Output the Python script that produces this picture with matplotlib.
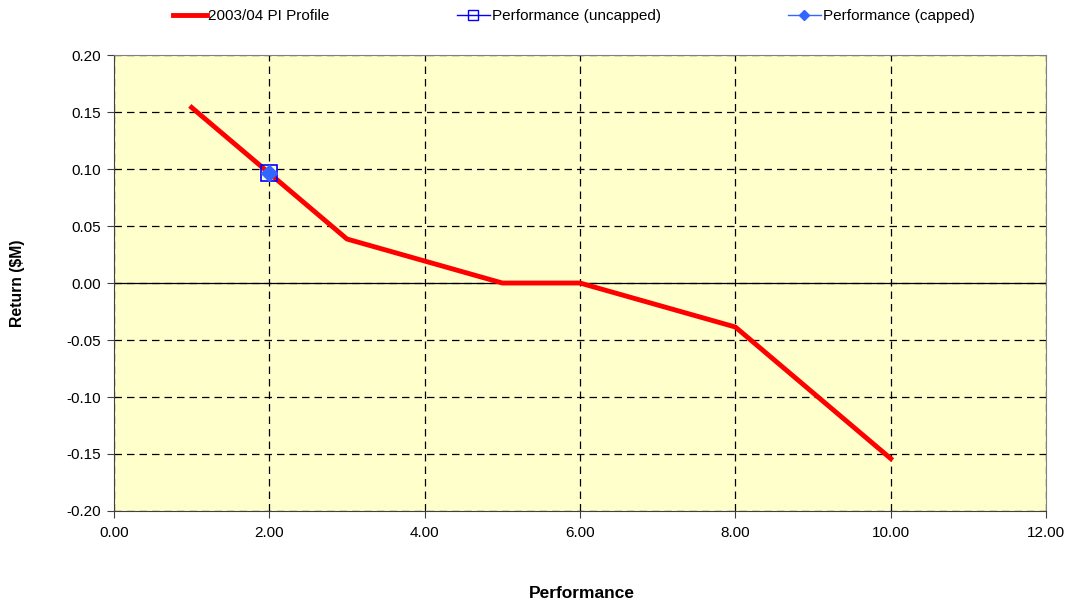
import matplotlib
matplotlib.use("Agg")
import matplotlib.pyplot as plt

plt.rcParams['font.family'] = ['Liberation Sans', 'DejaVu Sans']

profile_x = [1, 3, 5, 6, 8, 10]
profile_y = [0.154, 0.0386, 0.0, 0.0, -0.0386, -0.154]
perf_uncapped_x = [2]
perf_uncapped_y = [0.0965]
perf_capped_x = [2]
perf_capped_y = [0.0965]

x_ticks = [0, 2, 4, 6, 8, 10, 12]
y_ticks = [-0.20, -0.15, -0.10, -0.05, 0.00, 0.05, 0.10, 0.15, 0.20]

fig = plt.figure(figsize=(10.71, 6.05), dpi=100)
ax = fig.add_axes([0.1064, 0.1554, 0.8703, 0.7536])
ax.set_facecolor('#FFFFCC')

ax.set_xlim(0, 12)
ax.set_ylim(-0.20, 0.20)
ax.set_xticks(x_ticks)
ax.set_yticks(y_ticks)
ax.set_xticklabels([f"{v:.2f}" for v in x_ticks])
ax.set_yticklabels([f"{v:.2f}" for v in y_ticks])
ax.grid(True, color='black', linestyle=(0, (6, 4)), linewidth=0.9)
ax.set_axisbelow(True)
ax.axhline(0, color='black', linewidth=0.9, zorder=1.5)

for s in ['top', 'right']:
    ax.spines[s].set_color('#808080')
for s in ['left', 'bottom']:
    ax.spines[s].set_color('#404040')
ax.tick_params(axis='both', direction='out', length=5, color='#404040', labelsize=11)
ax.tick_params(axis='y', pad=4)
ax.tick_params(axis='x', pad=5.5)

ax.plot(profile_x, profile_y, color='#FF0000', linewidth=3.5, zorder=3)
ax.plot(perf_uncapped_x, perf_uncapped_y, color='#0000FF', marker='s', markersize=11,
        markerfacecolor='none', markeredgewidth=1.2, linewidth=1, zorder=4)
ax.plot(perf_capped_x, perf_capped_y, color='#3366FF', marker='D', markersize=8,
        linewidth=1, zorder=5)

fig.text(582 / 1071, 1 - 594 / 605, 'Performance', fontsize=12.5, fontweight='bold',
         ha='center', va='center')
fig.text(18 / 1071, 1 - 283 / 605, 'Return ($M)', fontsize=11.3, fontweight='bold',
         ha='center', va='center', rotation=90)

h1, = ax.plot([], [], color='#FF0000', linewidth=3.5)
h2, = ax.plot([], [], color='#0000FF', marker='s', markersize=7, markerfacecolor='none', linewidth=1)
h3, = ax.plot([], [], color='#3366FF', marker='D', markersize=5, linewidth=1)
fig.legend([h1, h2, h3], ['2003/04 PI Profile', 'Performance (uncapped)', 'Performance (capped)'],
           loc='center', bbox_to_anchor=(574 / 1071, 1 - 16 / 605), ncol=3, frameon=False,
           fontsize=11, handlelength=2.2, handletextpad=0.1, columnspacing=8.3)

fig.savefig('out.png', dpi=100)
